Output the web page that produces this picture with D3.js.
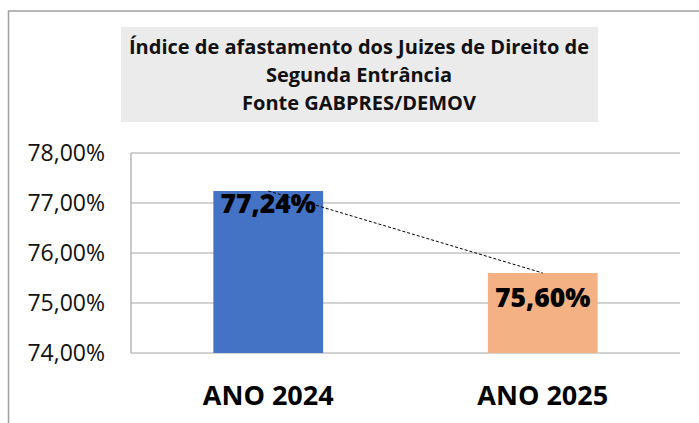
<!DOCTYPE html>
<html>
<head>
<meta charset="utf-8">
<script src="https://cdn.jsdelivr.net/npm/d3@7"></script>
<style>
  body { margin: 0; background: #fff; }
  text { font-family: "Open Sans", "DejaVu Sans", sans-serif; }
</style>
</head>
<body>
<div id="vis"></div>
<script>
const width = 699;
const height = 423;

// data
const categories = ['ANO 2024', 'ANO 2025'];
const values = [77.24, 75.60];
const labels = ['77,24%', '75,60%'];
const colors = ['#4472C4', '#F4B183'];
const yTicks = [74, 75, 76, 77, 78];
const titleLines = ['Índice de afastamento dos Juizes de Direito de', 'Segunda Entrância', 'Fonte GABPRES/DEMOV'];

const plot = {left: 131, right: 680, top: 153, bottom: 353};

const svg = d3.select('#vis')
    .append('svg')
    .attr('width', width)
    .attr('height', height);

// outer chart border (only top and left visible)
svg.append('path')
    .attr('d', `M8.5,${height} L8.5,11 L${width},11`)
    .attr('fill', 'none')
    .attr('stroke', '#a0a0a0')
    .attr('stroke-width', 1.5);

// title box
svg.append('rect')
    .attr('x', 121)
    .attr('y', 27)
    .attr('width', 477)
    .attr('height', 95)
    .style('fill', '#ebebeb');

svg.selectAll('.title')
    .data(titleLines)
    .join('text')
    .attr('class', 'title')
    .attr('x', 359)
    .attr('y', (d, i) => 54 + i * 28)
    .attr('text-anchor', 'middle')
    .style('font-size', '20px')
    .style('font-weight', 'bold')
    .style('fill', '#111')
    .text(d => d);

const x = d3.scaleBand()
    .domain(categories)
    .range([plot.left, plot.right])
    .paddingInner(0.6)
    .paddingOuter(0.3);

const y = d3.scaleLinear()
    .domain([74, 78])
    .range([plot.bottom, plot.top]);

// gridlines
svg.append('g')
    .selectAll('line')
    .data(yTicks)
    .join('line')
    .attr('x1', plot.left)
    .attr('x2', plot.right)
    .attr('y1', d => y(d))
    .attr('y2', d => y(d))
    .attr('stroke', '#a6a6a6')
    .attr('stroke-width', 1.2);

// left axis line of the plot area
svg.append('line')
    .attr('x1', plot.left)
    .attr('x2', plot.left)
    .attr('y1', plot.top)
    .attr('y2', plot.bottom)
    .attr('stroke', '#a6a6a6')
    .attr('stroke-width', 1.2);

// y tick labels
svg.append('g')
    .selectAll('text')
    .data(yTicks)
    .join('text')
    .attr('x', 105)
    .attr('y', d => y(d) + 8)
    .attr('text-anchor', 'end')
    .style('font-size', '23px')
    .style('fill', '#111')
    .text(d => d3.format('.2f')(d).replace('.', ',') + '%');

// bars
svg.append('g')
    .selectAll('rect')
    .data(values)
    .join('rect')
    .attr('x', (d, i) => x(categories[i]))
    .attr('y', d => y(d))
    .attr('width', x.bandwidth())
    .attr('height', d => plot.bottom - y(d))
    .style('fill', (d, i) => colors[i]);

// dashed line connecting bar tops
const line = d3.line()
    .x((d, i) => x(categories[i]) + x.bandwidth() / 2)
    .y(d => y(d));

svg.append('path')
    .datum(values)
    .attr('d', line)
    .attr('fill', 'none')
    .attr('stroke', '#000')
    .attr('stroke-width', 1)
    .attr('stroke-dasharray', '3,2');

// value labels
const labelOffset = [22, 34];
svg.append('g')
    .selectAll('text')
    .data(values)
    .join('text')
    .attr('x', (d, i) => x(categories[i]) + x.bandwidth() / 2)
    .attr('y', (d, i) => y(d) + labelOffset[i])
    .attr('text-anchor', 'middle')
    .style('font-size', '26.5px')
    .style('font-weight', 800)
    .style('fill', '#000')
    .text((d, i) => labels[i]);

// category labels
svg.append('g')
    .selectAll('text')
    .data(categories)
    .join('text')
    .attr('x', d => x(d) + x.bandwidth() / 2)
    .attr('y', 405)
    .attr('text-anchor', 'middle')
    .style('font-size', '27px')
    .style('font-weight', 'bold')
    .style('fill', '#000')
    .text(d => d);
</script>
</body>
</html>
